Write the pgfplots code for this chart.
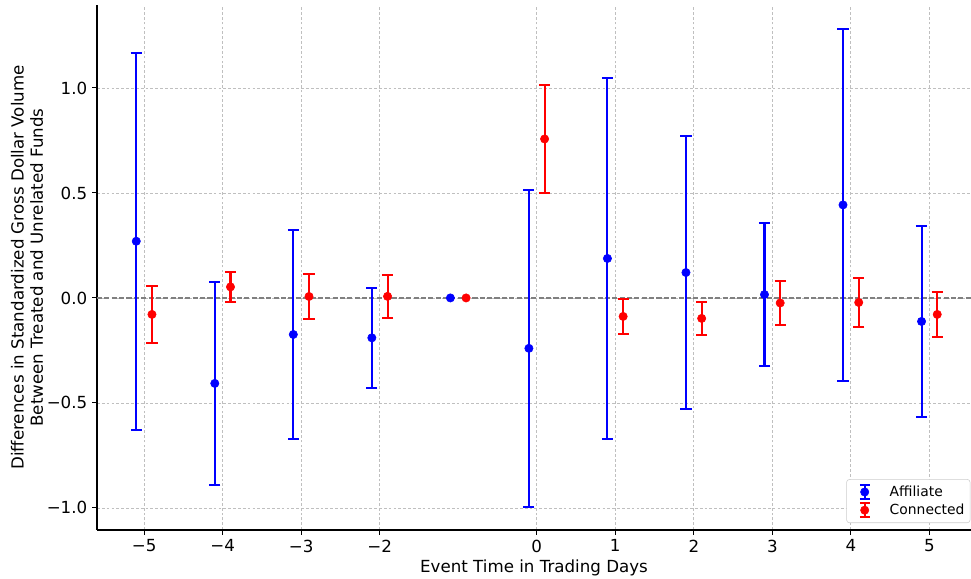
\documentclass[border=0pt]{standalone}
\usepackage{fontspec}
\setmainfont{DejaVu Sans}
\usepackage{pgfplots}
\usepackage{pgfplotstable}
\pgfplotsset{compat=1.18}

\pgfplotstableread{
x y e
-5.1 0.270 0.898
-4.1 -0.407 0.483
-3.1 -0.174 0.4975
-2.1 -0.190 0.238
-0.1 -0.240 0.755
0.9 0.188 0.860
1.9 0.121 0.650
2.9 0.016 0.340
3.9 0.443 0.838
4.9 -0.112 0.455
}\affil

\pgfplotstableread{
x y e
-4.9 -0.0785 0.1355
-3.9 0.0525 0.0715
-2.9 0.007 0.107
-1.9 0.0075 0.1025
0.1 0.757 0.257
1.1 -0.088 0.083
2.1 -0.0975 0.0785
3.1 -0.024 0.105
4.1 -0.0215 0.1165
5.1 -0.0785 0.1075
}\conn

\begin{document}
\begin{tikzpicture}
\begin{axis}[
  scale only axis, width=629.3pt, height=378pt,
  xmin=-5.6, xmax=5.53, ymin=-1.105, ymax=1.395,
  axis x line*=bottom, axis y line*=left,
  tick align=outside,
  xtick={-5,-4,-3,-2,0,1,2,3,4,5},
  xticklabels={−5,−4,−3,−2,0,1,2,3,4,5},
  ytick={-1,-0.5,0,0.5,1},
  yticklabels={−1.0,−0.5,0.0,0.5,1.0},
  grid=major,
  grid style={dash pattern=on 2pt off 1.5pt, black!25, line width=0.6pt},
  major tick length=3.5pt,
  tick style={black, line width=0.8pt},
  axis line style={black, line width=0.8pt},
  ticklabel style={font=\fontsize{12}{14}\selectfont},
  label style={font=\fontsize{12}{14}\selectfont},
  xlabel={Event Time in Trading Days},
  xlabel style={yshift=1.5pt},
  ylabel={Differences in Standardized Gross Dollar Volume\\Between Treated and Unrelated Funds},
  ylabel style={align=center, yshift=-4.3pt},
  legend cell align=left,
  legend style={at={(1,0)}, anchor=south east, xshift=-0.5pt, yshift=5pt,
    draw=black!20, rounded corners=2pt, font=\fontsize{10}{12}\selectfont,
    row sep=0pt, inner xsep=2pt, inner ysep=2.5pt},
]
\coordinate (bl) at (rel axis cs:0,0);
\coordinate (tr) at (rel axis cs:1,1);
\addplot[black!50, dash pattern=on 3.7pt off 1.6pt, line width=1pt, forget plot] coordinates {(-5.6,0) (5.53,0)};

\addplot[blue, only marks, mark=*, mark size=3pt, mark options={fill=blue, draw=blue},
  legend image code/.code={
    \path[draw=none, fill=none] (0pt,0pt) -- (27pt,0pt);
    \draw[blue, line width=1.5pt] (11pt,-5pt) -- (11pt,5pt);
    \draw[blue, line width=1.5pt] (7.5pt,-5pt) -- (14.5pt,-5pt);
    \draw[blue, line width=1.5pt] (7.5pt,5pt) -- (14.5pt,5pt);
    \fill[blue] (11pt,0pt) circle (3pt);},
  error bars/.cd, y dir=both, y explicit, error mark=|,
  error bar style={line width=1.5pt, blue},
  error mark options={line width=1.5pt, mark size=4pt, blue}]
  table[x=x, y=y, y error=e] {\affil};
\addlegendentry{Affiliate}

\addplot[red, only marks, mark=*, mark size=3pt, mark options={fill=red, draw=red},
  legend image code/.code={
    \path[draw=none, fill=none] (0pt,0pt) -- (27pt,0pt);
    \draw[red, line width=1.5pt] (11pt,-5pt) -- (11pt,5pt);
    \draw[red, line width=1.5pt] (7.5pt,-5pt) -- (14.5pt,-5pt);
    \draw[red, line width=1.5pt] (7.5pt,5pt) -- (14.5pt,5pt);
    \fill[red] (11pt,0pt) circle (3pt);},
  error bars/.cd, y dir=both, y explicit, error mark=|,
  error bar style={line width=1.5pt, red},
  error mark options={line width=1.5pt, mark size=4pt, red}]
  table[x=x, y=y, y error=e] {\conn};
\addlegendentry{Connected}

\addplot[blue, only marks, mark=*, mark size=3pt, mark options={fill=blue, draw=blue}, forget plot]
  coordinates {(-1.1,0)};
\addplot[red, only marks, mark=*, mark size=3pt, mark options={fill=red, draw=red}, forget plot]
  coordinates {(-0.9,0)};
\end{axis}
\pgfresetboundingbox
\path[use as bounding box] ([shift={(-69.84pt,-35.28pt)}]bl) rectangle ([shift={(0pt,3.6pt)}]tr);
\end{tikzpicture}
\end{document}
